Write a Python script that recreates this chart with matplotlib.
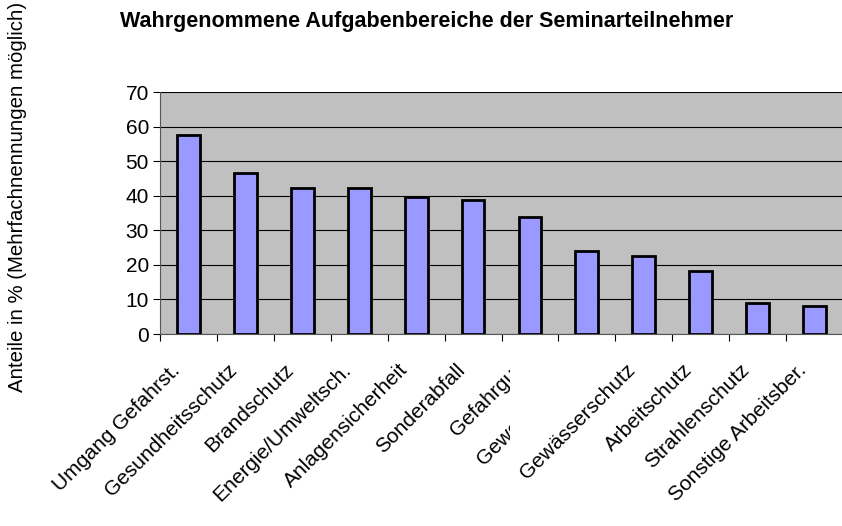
import matplotlib
matplotlib.use("Agg")
import matplotlib.pyplot as plt
from matplotlib.transforms import Bbox
import numpy as np

categories = ["Umgang Gefahrst.", "Gesundheitsschutz", "Brandschutz",
              "Energie/Umweltsch.", "Anlagensicherheit", "Sonderabfall",
              "Gefahrgut", "Gewerbeabfall", "Gewässerschutz",
              "Arbeitschutz", "Strahlenschutz", "Sonstige Arbeitsber."]
values = [57.5, 46.5, 42.2, 42.2, 39.5, 38.7, 33.7, 24.0, 22.6, 18.2, 8.9, 8.0]
y_ticks = [0, 10, 20, 30, 40, 50, 60, 70]


def main():
    plt.rcParams["font.family"] = ["Liberation Sans", "DejaVu Sans"]
    fig = plt.figure(figsize=(8.42, 5.26), dpi=100)
    ax = fig.add_axes([160 / 842, 1 - 334 / 526, 683 / 842, 242 / 526])
    ax.set_facecolor("#c0c0c0")

    x = np.arange(len(categories))
    ax.bar(x, values, width=0.4, color="#9999ff", edgecolor="black",
           linewidth=2, zorder=3)

    ax.set_xlim(-0.5, len(categories) - 0.5)
    ax.set_ylim(0, 70)
    ax.set_yticks(y_ticks)
    ax.yaxis.grid(True, color="black", linewidth=0.8, zorder=0)
    ax.set_axisbelow(True)
    ax.tick_params(axis="y", labelsize=15, length=5, direction="out", pad=3)
    ax.set_xticks(np.arange(len(categories) + 1) - 0.5)
    ax.set_xticklabels([])
    ax.tick_params(axis="x", length=5, direction="out")
    for s in ["top", "right"]:
        ax.spines[s].set_visible(False)
    ax.spines["left"].set_color("#555555")
    ax.spines["bottom"].set_color("#555555")

    # labels 7 and 8 are cut off in the original
    clip = Bbox.from_extents(0, 0, 510, 526)
    for i, lab in enumerate(categories):
        t = ax.annotate(lab, xy=(i, 0), xycoords=("data", "axes fraction"),
                        xytext=(-13, -19), textcoords="offset points",
                        rotation=45, ha="right", va="top",
                        rotation_mode="anchor", fontsize=15,
                        annotation_clip=False)
        if i in (6, 7):
            t.set_clip_on(True)
            t.set_clip_box(clip)

    fig.text(427 / 842, 1 - 22 / 526,
             "Wahrgenommene Aufgabenbereiche der Seminarteilnehmer",
             ha="center", va="center", fontsize=15.5, fontweight="bold")
    fig.text(18 / 842, 1 - 197 / 526,
             "Anteile in % (Mehrfachnennungen möglich)",
             rotation=90, ha="center", va="center", fontsize=14.7)

    fig.savefig("out.png", dpi=100)


if __name__ == "__main__":
    main()
